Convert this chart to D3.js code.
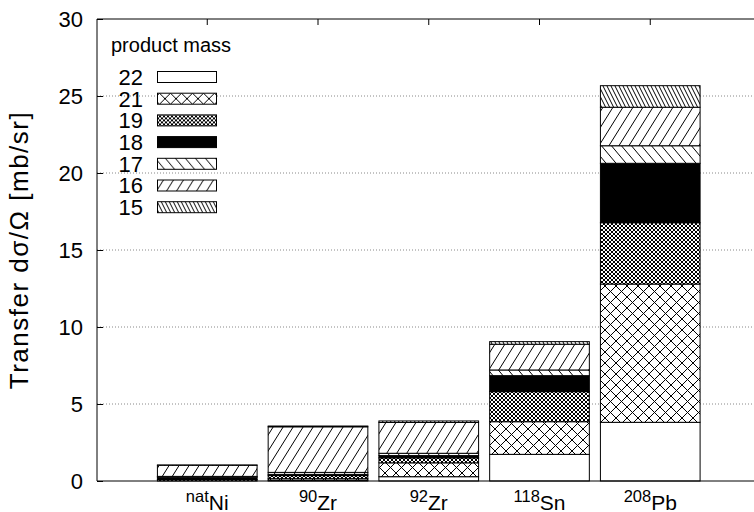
<!DOCTYPE html>
<html>
<head>
<meta charset="utf-8">
<script src="https://cdn.jsdelivr.net/npm/d3@7"></script>
<style>
body { margin: 0; background: #fff; }
text { font-family: "Liberation Sans", Arial, Helvetica, sans-serif; fill: #000; }
</style>
</head>
<body>
<div id="chart"></div>
<script>
var width = 754;
var height = 512;

// targets (superscript mass + element) and product masses
var isotopeMass = ["nat", "90", "92", "118", "208"];
var isotopeName = ["Ni", "Zr", "Zr", "Sn", "Pb"];
var productMass = [22, 21, 19, 18, 17, 16, 15];

// transfer cross sections per product mass, one value per target
var mass22 = [0.00, 0.05, 0.28, 1.73, 3.81];
var mass21 = [0.00, 0.10, 0.90, 2.12, 8.98];
var mass19 = [0.10, 0.20, 0.32, 1.95, 3.98];
var mass18 = [0.15, 0.08, 0.15, 1.04, 3.86];
var mass17 = [0.05, 0.13, 0.15, 0.37, 1.14];
var mass16 = [0.72, 2.96, 2.00, 1.67, 2.50];
var mass15 = [0.02, 0.05, 0.10, 0.17, 1.40];

var yTicks = [0, 5, 10, 15, 20, 25, 30];

var series = {22: mass22, 21: mass21, 19: mass19, 18: mass18, 17: mass17, 16: mass16, 15: mass15};
var rows = isotopeName.map(function(n, i) {
	var r = {i: i};
	productMass.forEach(function(m) { r[m] = series[m][i]; });
	return r;
});
var stacked = d3.stack().keys(productMass)(rows);

var plotLeft = 97, plotTop = 19, plotBottom = 481;
var xScale = d3.scaleLinear().domain([0, 6]).range([96.5, 761]);
var yScale = d3.scaleLinear().domain([0, 30]).range([plotBottom, plotTop]);
var barW = (xScale(1) - xScale(0)) * 0.9;

var svg = d3.select("#chart").append("svg")
	.attr("width", width)
	.attr("height", height);

// fill patterns, one per product mass
var defs = svg.append("defs");
function hatch(id, w, h, dirs) {
	var p = defs.append("pattern")
		.attr("id", id)
		.attr("patternUnits", "userSpaceOnUse")
		.attr("width", w)
		.attr("height", h);
	p.append("rect").attr("width", w).attr("height", h).attr("fill", "#fff");
	var d = "";
	[-w, 0, w].forEach(function(s) {
		if (dirs.indexOf("/") >= 0) d += "M" + (s - w) + "," + (2 * h) + "L" + (s + 2 * w) + "," + (-h);
		if (dirs.indexOf("\\") >= 0) d += "M" + (s - w) + "," + (-h) + "L" + (s + 2 * w) + "," + (2 * h);
	});
	p.append("path").attr("d", d).attr("stroke", "#000").attr("stroke-width", 1).attr("fill", "none");
}
hatch("p21", 11, 11, "/\\");
hatch("p19", 4, 4, "/\\");
hatch("p17", 10, 12, "\\");
hatch("p16", 10, 16, "/");
hatch("p15", 4, 8, "\\");
var fills = {22: "#fff", 21: "url(#p21)", 19: "url(#p19)", 18: "#000", 17: "url(#p17)", 16: "url(#p16)", 15: "url(#p15)"};

// grid
svg.append("g")
	.selectAll("line")
	.data(yTicks.filter(function(t) { return t > 0 && t < 30; }))
	.enter().append("line")
	.attr("x1", plotLeft).attr("x2", width)
	.attr("y1", function(d) { return yScale(d); })
	.attr("y2", function(d) { return yScale(d); })
	.attr("stroke", "#888")
	.attr("stroke-dasharray", "1,2");

// y axis
var yAxis = d3.axisLeft(yScale).tickValues(yTicks).tickSize(-6).tickSizeOuter(0).tickPadding(14);
var gy = svg.append("g").attr("transform", "translate(" + plotLeft + ",0)").call(yAxis);
gy.select(".domain").remove();
gy.attr("font-family", null).attr("font-size", null);
gy.selectAll("text").style("font-size", "22px");
gy.selectAll("line").attr("stroke", "#000");

// x ticks, top (mirrored)
var cats = d3.range(1, 6);
svg.append("g").selectAll("line").data(cats).enter().append("line")
	.attr("x1", function(d) { return xScale(d); })
	.attr("x2", function(d) { return xScale(d); })
	.attr("y1", plotTop).attr("y2", plotTop + 6)
	.attr("stroke", "#000");

// bars
var layers = svg.append("g").selectAll("g")
	.data(stacked)
	.enter().append("g")
	.attr("fill", function(d) { return fills[d.key]; });
layers.selectAll("rect")
	.data(function(d) { return d.filter(function(s) { return s[1] - s[0] > 0; }); })
	.enter().append("rect")
	.attr("x", function(d) { return xScale(d.data.i + 1) - barW / 2; })
	.attr("width", barW)
	.attr("y", function(d) { return yScale(d[1]); })
	.attr("height", function(d) { return yScale(d[0]) - yScale(d[1]); })
	.attr("stroke", "#000")
	.attr("stroke-width", 1);

// border
svg.append("path")
	.attr("d", "M" + width + "," + plotTop + "H" + plotLeft + "V" + plotBottom + "H" + width)
	.attr("fill", "none")
	.attr("stroke", "#000");

// category labels
var lab = svg.append("g").selectAll("text").data(cats).enter().append("text")
	.attr("x", function(d) { return xScale(d); })
	.attr("y", 510)
	.attr("text-anchor", "middle");
lab.append("tspan")
	.style("font-size", "16.5px")
	.attr("dy", -8)
	.text(function(d) { return isotopeMass[d - 1]; });
lab.append("tspan")
	.style("font-size", "21px")
	.attr("dy", 8)
	.text(function(d) { return isotopeName[d - 1]; });

// y label
svg.append("text")
	.attr("transform", "rotate(-90)")
	.attr("x", -250)
	.attr("y", 28)
	.attr("text-anchor", "middle")
	.style("font-size", "26px")
	.style("letter-spacing", "1.5px")
	.text("Transfer d\u03c3/\u03a9 [mb/sr]");

// legend
svg.append("text")
	.attr("x", 111).attr("y", 52)
	.style("font-size", "20px")
	.text("product mass");
var leg = svg.append("g").selectAll("g").data(productMass).enter().append("g")
	.attr("transform", function(d, i) { return "translate(0," + (77 + i * 21.7) + ")"; });
leg.append("text")
	.attr("x", 143).attr("y", 0).attr("dy", "0.36em")
	.attr("text-anchor", "end")
	.style("font-size", "22px")
	.text(function(d) { return d; });
leg.append("rect")
	.attr("x", 157.5).attr("y", -5.5)
	.attr("width", 59).attr("height", 11)
	.attr("fill", function(d) { return fills[d]; })
	.attr("stroke", "#000");
</script>
</body>
</html>
